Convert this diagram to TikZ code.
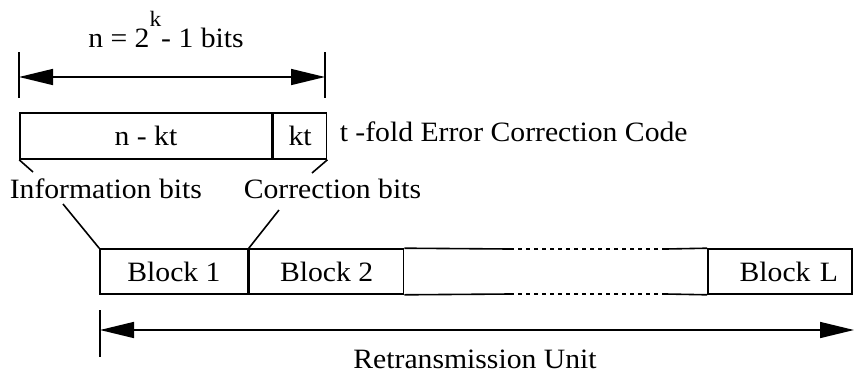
\documentclass[tikz,border=0pt]{standalone}
\usepackage{fontspec}
\setmainfont{Liberation Serif}[FakeStretch=1.06]
\usetikzlibrary{arrows.meta}
\newcommand{\figfont}{\fontsize{28}{32}\selectfont}
\tikzset{
  blockbox/.style={draw, minimum height=46pt, inner sep=0pt, font=\figfont},
  dimline/.style={{Triangle[length=34pt,width=16pt]}-{Triangle[length=34pt,width=16pt]}},
  txt/.style={inner sep=0pt, font=\figfont, anchor=base west},
  gapline/.style={dash pattern=on 4pt off 4pt},
}
\begin{document}
\begin{tikzpicture}[x=1pt,y=-1pt,line width=1.6pt]
        \useasboundingbox (0,0) rectangle (854,373);

        % code word length
        \coordinate (wl1) at (19,52); \coordinate (wl2) at (19,98);
        \coordinate (wr1) at (325,52); \coordinate (wr2) at (325,98);
        \coordinate (wla) at (19,77); \coordinate (wra) at (325,77);
        \draw (wl1) -- (wl2);
        \draw (wr1) -- (wr2);
        \draw[dimline] (wla) -- (wra);
        \node[txt, anchor=base] (nbits) at (166,47) {n = 2\raisebox{21pt}{\fontsize{22}{22}\selectfont k}- 1 bits};

        % code word
        \node[blockbox, minimum width=252pt] (info) at (146,136) {n - kt};
        \node[blockbox, minimum width=53pt, anchor=west] (corr) at (info.east) {kt};
        \node[txt] (code) at (339,141) {t -fold Error Correction Code};

        \coordinate (hl) at (33,172); \coordinate (hr) at (312,173);
        \draw (info.south west) -- (hl);
        \draw (corr.south east) -- (hr);

        \node[txt] (infobits) at (9,198) {Information bits};
        \node[txt] (corrbits) at (243,198) {Correction bits};

        % blocks
        \node[blockbox, minimum width=148pt, minimum height=45pt] (b1) at (174,271.5) {Block 1};
        \node[blockbox, minimum width=154pt, minimum height=45pt, anchor=west] (b2) at (b1.east) {Block 2};
        \node[blockbox, minimum height=45pt, text width=116pt, align=right, inner xsep=14pt] (bL) at (780,271.5) {Block L};

        \coordinate (t1) at (510,249); \coordinate (t2) at (666,249);
        \coordinate (u1) at (510,294); \coordinate (u2) at (666,294);
        \draw (b2.north east) -- (t1);
        \draw[gapline] (t1) -- (t2);
        \draw (t2) -- (bL.north west);
        \draw (b2.south east) -- (u1);
        \draw[gapline] (u1) -- (u2);
        \draw (u2) -- (bL.south west);

        \coordinate (ia) at (63,204); \coordinate (ca) at (279,210);
        \draw (ia) -- (b1.north west);
        \draw (ca) -- (b1.north east);

        % retransmission unit
        \coordinate (ul1) at (100,310); \coordinate (ul2) at (100,357);
        \coordinate (ula) at (100,330); \coordinate (ura) at (854,330);
        \draw (ul1) -- (ul2);
        \draw[dimline] (ula) -- (ura);
        \node[txt, anchor=base] (unit) at (475,368) {Retransmission Unit};
\end{tikzpicture}
\end{document}
